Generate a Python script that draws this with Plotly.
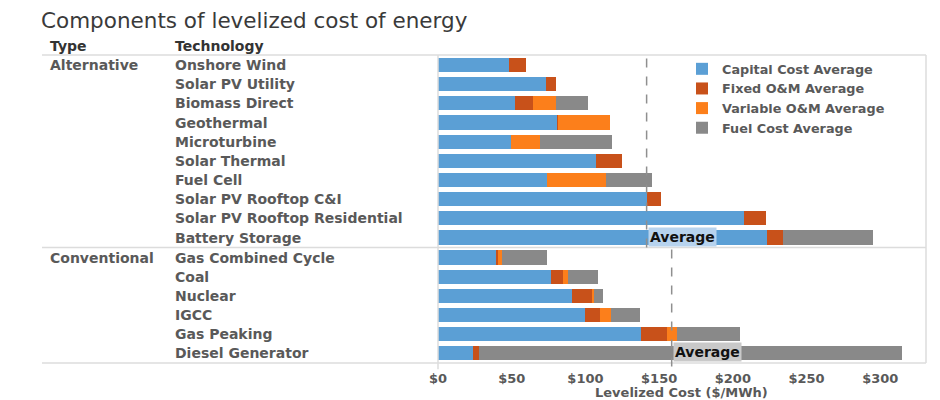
import plotly.graph_objects as go
from plotly.subplots import make_subplots

# ---- data ----
alt_tech = ["Onshore Wind", "Solar PV Utility", "Biomass Direct", "Geothermal", "Microturbine",
            "Solar Thermal", "Fuel Cell", "Solar PV Rooftop C&I", "Solar PV Rooftop Residential",
            "Battery Storage"]
alt_capital = [48, 73, 52, 81, 49.5, 107, 74, 142, 207.5, 223]
alt_fixed = [12, 7, 12.5, 0.5, 0, 18, 0, 9, 15, 11]
alt_variable = [0, 0, 15.5, 35, 19.5, 0, 40, 0, 0, 0]
alt_fuel = [0, 0, 22, 0, 49, 0, 31, 0, 0, 61]

conv_tech = ["Gas Combined Cycle", "Coal", "Nuclear", "IGCC", "Gas Peaking", "Diesel Generator"]
conv_capital = [39, 76.5, 91, 100, 138, 24]
conv_fixed = [1.5, 8, 13.5, 10, 17.5, 3.5]
conv_variable = [3, 3.5, 1, 7.5, 6.5, 0]
conv_fuel = [30.5, 20.5, 6.5, 19.5, 43, 287]

types = ["Alternative", "Conventional"]
series_names = ["Capital Cost Average", "Fixed O&M Average", "Variable O&M Average", "Fuel Cost Average"]
colors = ["#5b9fd5", "#c8511a", "#fc7f1b", "#898989"]
tick_vals = [0, 50, 100, 150, 200, 250, 300]
tick_text = ["$0", "$50", "$100", "$150", "$200", "$250", "$300"]

alt_series = [alt_capital, alt_fixed, alt_variable, alt_fuel]
conv_series = [conv_capital, conv_fixed, conv_variable, conv_fuel]

alt_avg = sum(sum(v) for v in zip(*alt_series)) / len(alt_tech)
conv_avg = sum(sum(v) for v in zip(*conv_series)) / len(conv_tech)

# ---- figure ----
fig = make_subplots(rows=2, cols=1, shared_xaxes=True, row_heights=[10, 6], vertical_spacing=0)

for i, name in enumerate(series_names):
    fig.add_trace(go.Bar(y=alt_tech, x=alt_series[i], orientation="h", name=name,
                         marker=dict(color=colors[i], line=dict(width=0)),
                         legendgroup=name, showlegend=True), row=1, col=1)
    fig.add_trace(go.Bar(y=conv_tech, x=conv_series[i], orientation="h", name=name,
                         marker=dict(color=colors[i], line=dict(width=0)),
                         legendgroup=name, showlegend=False), row=2, col=1)

# plot area in reference pixels: x 438..926, y 55..363 (page body offset of 8px compensated)
PL, PR, PT, PB = 438, 926, 55, 363
PW, PH = PR - PL, PB - PT


def px(x):
    return (x - PL) / PW


def py(y):
    return (PB - y) / PH


xmax = 331
gray = "#595959"
FAM = "DejaVu Sans, Liberation Sans, Arial"
lbl_font = dict(family=FAM, size=14, color=gray, weight="bold")

fig.update_layout(
    width=932, height=392,
    margin=dict(l=PL - 8, r=932 - (PR - 8), t=PT - 8, b=392 - (PB - 8)),
    barmode="stack", bargap=0.26,
    paper_bgcolor="white", plot_bgcolor="white",
    showlegend=True,
    legend=dict(x=px(682), y=py(54), xanchor="left", yanchor="top",
                font=dict(family=FAM, size=12.8, color=gray, weight="bold"),
                bgcolor="rgba(255,255,255,0)", tracegroupgap=0, itemwidth=30),
)
fig.update_xaxes(range=[0, xmax], showgrid=False, zeroline=False, showline=False, ticks="")
fig.update_xaxes(tickvals=tick_vals, ticktext=tick_text,
                 tickfont=dict(family=FAM, size=13, color=gray, weight="bold"),
                 ticklabelstandoff=6, row=2, col=1)
fig.update_yaxes(autorange="reversed", showticklabels=False, showgrid=False,
                 zeroline=False, showline=False, ticks="")

# borders / separators
line_col = "#dcdcdc"
x_left = px(42)
for yy in (1, 6 / 16, 0):
    fig.add_shape(type="line", xref="paper", yref="paper", x0=x_left, x1=1, y0=yy, y1=yy,
                  line=dict(color=line_col, width=1.5))
fig.add_shape(type="line", xref="paper", yref="paper", x0=1, x1=1, y0=0, y1=1,
              line=dict(color=line_col, width=1.5))
fig.add_shape(type="line", xref="paper", yref="paper", x0=0, x1=0, y0=-0.02, y1=1,
              line=dict(color=line_col, width=1.5))

# average lines
fig.add_shape(type="line", xref="x", yref="y domain", x0=alt_avg, x1=alt_avg, y0=0, y1=1,
              line=dict(color="#8f8f8f", width=1.5, dash="dash"))
fig.add_shape(type="line", xref="x2", yref="y2 domain", x0=conv_avg, x1=conv_avg, y0=-0.03, y1=1,
              line=dict(color="#8f8f8f", width=1.5, dash="dash"))
avg_font = dict(family=FAM, size=14, color="#111111", weight="bold")
fig.add_annotation(x=alt_avg, xref="x", y=0.005, yref="y domain", text="Average",
                   xanchor="left", yanchor="bottom", showarrow=False, font=avg_font,
                   bgcolor="#b7d3ee", borderpad=1, xshift=1)
fig.add_annotation(x=conv_avg, xref="x2", y=0.01, yref="y2 domain", text="Average",
                   xanchor="left", yanchor="bottom", showarrow=False, font=avg_font,
                   bgcolor="#c9c9c9", borderpad=1, xshift=1)

# headers and title
hdr_font = dict(family=FAM, size=14, color="#333333", weight="bold")
fig.add_annotation(x=px(48), y=py(46), xref="paper", yref="paper",
                   text="Type", xanchor="left", yanchor="middle", showarrow=False, font=hdr_font)
fig.add_annotation(x=px(173), y=py(46), xref="paper", yref="paper",
                   text="Technology", xanchor="left", yanchor="middle", showarrow=False, font=hdr_font)
fig.add_annotation(x=px(39), y=py(20), xref="paper", yref="paper",
                   text="Components of levelized cost of energy", xanchor="left", yanchor="middle",
                   showarrow=False, font=dict(family="DejaVu Sans", size=21.5, color="#3a3a3a"))
fig.add_annotation(x=px(681), y=py(392), xref="paper", yref="paper",
                   text="Levelized Cost ($/MWh)", xanchor="center", yanchor="middle",
                   showarrow=False, font=dict(family=FAM, size=13, color=gray, weight="bold"))

# row labels
for t in alt_tech:
    fig.add_annotation(x=px(173), xref="paper", y=t, yref="y", text=t,
                       xanchor="left", yanchor="middle", showarrow=False, font=lbl_font)
for t in conv_tech:
    fig.add_annotation(x=px(173), xref="paper", y=t, yref="y2", text=t,
                       xanchor="left", yanchor="middle", showarrow=False, font=lbl_font)
fig.add_annotation(x=px(48), xref="paper", y=alt_tech[0], yref="y", text=types[0],
                   xanchor="left", yanchor="middle", showarrow=False, font=lbl_font)
fig.add_annotation(x=px(48), xref="paper", y=conv_tech[0], yref="y2", text=types[1],
                   xanchor="left", yanchor="middle", showarrow=False, font=lbl_font)

fig.write_html("out.html")
